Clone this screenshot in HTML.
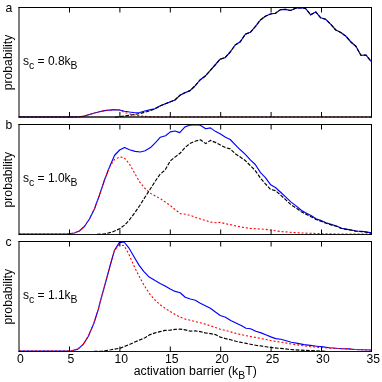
<!DOCTYPE html>
<html><head><meta charset="utf-8"><title>chart</title>
<style>
html,body{margin:0;padding:0;background:#fff;}
body{width:382px;height:382px;position:relative;overflow:hidden;font-family:"Liberation Sans",sans-serif;}
.t{font-family:"Liberation Sans",sans-serif;font-size:12.2px;fill:#000;}
.s{font-size:10.4px;}
</style></head><body>
<svg width="382" height="382" viewBox="0 0 382 382" style="position:absolute;left:0;top:0">
<rect width="382" height="382" fill="#fff"/>
<g fill="none" stroke-linejoin="round">
<polyline points="19.0,117.0 74.0,117.0 79.3,116.8 84.4,116.0 89.4,114.5 94.4,113.0 99.5,111.7 104.5,110.6 109.5,110.1 114.5,109.6 119.6,110.0 124.6,111.2 129.6,112.0 134.7,112.7 139.7,112.5 144.7,111.0 149.7,109.9 154.8,108.8 159.8,106.0 164.8,104.0 169.9,102.0 174.9,100.0 179.9,95.3 184.9,92.7 190.0,90.6 195.0,86.0 200.0,80.0 205.0,76.3 210.1,70.7 215.1,65.0 220.1,59.2 225.2,57.6 230.2,52.0 235.2,45.0 240.3,41.8 245.3,34.2 250.3,32.3 255.3,26.7 260.4,20.0 265.4,16.2 270.4,14.0 275.5,13.2 280.5,9.6 285.5,9.4 290.5,10.5 295.6,8.3 300.6,7.8 305.6,8.5 310.7,14.8 315.7,11.9 320.7,17.8 325.7,19.3 330.8,24.3 335.8,30.0 340.8,32.5 345.9,36.2 350.9,42.0 355.9,46.3 360.9,55.3 366.0,55.0 371.0,61.3" stroke="#0000ff" stroke-width="1.15"/>
<polyline points="19.0,117.0 74.0,117.0 79.3,116.8 84.4,116.0 89.4,114.5 94.4,113.0 99.5,111.7 104.5,110.6 109.5,110.1 114.5,109.6 119.6,110.0 124.6,112.5 129.6,113.8 134.7,115.0 139.7,115.8 144.7,116.3 149.7,116.6 160.0,117.0 371.5,117.0" stroke="#ff0000" stroke-width="1.1" stroke-dasharray="2 2"/>
<polyline points="115.0,117.2 119.6,116.6 124.6,116.0 129.6,115.3 134.7,114.4 139.7,113.6 144.7,112.3 149.7,110.8 154.8,109.0 159.8,106.0 164.8,104.0 169.9,102.0 174.9,100.0 179.9,95.3 184.9,92.7 190.0,90.6 195.0,86.0 200.0,80.0 205.0,76.3 210.1,70.7 215.1,65.0 220.1,59.2 225.2,57.6 230.2,52.0 235.2,45.0 240.3,41.8 245.3,34.2 250.3,32.3 255.3,26.7 260.4,20.0 265.4,16.2 270.4,14.0 275.5,13.2 280.5,9.6 285.5,9.4 290.5,10.5 295.6,8.3 300.6,7.8 305.6,8.5 310.7,14.8 315.7,11.9 320.7,17.8 325.7,19.3 330.8,24.3 335.8,30.0 340.8,32.5 345.9,36.2 350.9,42.0 355.9,46.3 360.9,55.3 366.0,55.0 371.0,61.3" stroke="#000" stroke-width="1.15" stroke-dasharray="3.7 1.5"/>
</g>
<path d="M19,7.0V117.5M371.5,7.0V117.5M18.5,7.5H372.0" fill="none" stroke="#000" stroke-width="1"/>
<path d="M18.5,117H372.0" fill="none" stroke="#000" stroke-width="1.5" opacity="0.92"/>
<path d="M69.50,117V112M69.50,7.5V12.5M119.90,117V112M119.90,7.5V12.5M170.30,117V112M170.30,7.5V12.5M220.70,117V112M220.70,7.5V12.5M271.10,117V112M271.10,7.5V12.5M321.50,117V112M321.50,7.5V12.5" stroke="#000" stroke-width="1" fill="none"/>
<g fill="none" stroke-linejoin="round">
<polyline points="19.0,234.0 64.0,234.0 69.3,233.8 74.3,233.0 79.3,231.0 84.4,226.5 89.4,219.0 94.4,209.0 99.5,195.0 104.5,180.0 109.5,167.0 114.5,155.5 119.6,150.0 124.6,147.5 129.4,149.8 135.1,151.4 140.4,152.0 145.1,150.8 150.5,147.6 155.5,142.6 160.2,137.3 165.6,135.7 170.3,131.9 175.0,131.0 179.7,132.6 185.0,126.9 189.7,125.3 195.5,124.6 200.4,125.3 205.7,128.8 210.4,127.9 215.8,131.6 220.5,134.1 225.5,137.3 230.2,139.5 235.6,145.1 240.3,149.8 245.6,154.6 250.3,159.9 255.3,164.5 260.5,172.6 265.2,177.3 270.7,184.8 275.4,187.5 280.9,192.5 285.6,196.9 291.1,202.1 296.1,205.9 301.3,210.3 306.0,212.9 311.5,215.8 316.0,218.7 321.1,220.6 326.1,222.8 331.1,224.4 336.5,226.0 341.5,228.2 346.2,229.1 351.5,230.0 356.2,231.0 361.6,231.3 366.3,231.9 371.0,232.9" stroke="#0000ff" stroke-width="1.15"/>
<polyline points="19.0,234.0 64.0,234.0 69.3,233.8 74.3,233.0 79.3,231.0 84.4,226.5 89.4,219.0 94.4,209.0 99.5,195.0 104.5,180.0 109.5,167.0 114.5,159.5 119.7,157.0 124.0,157.5 129.4,164.0 134.8,173.4 139.8,182.2 145.1,188.5 149.8,192.9 155.2,196.0 160.2,198.5 165.6,202.3 170.3,205.5 175.0,209.5 180.3,213.6 186.0,214.3 190.7,215.5 195.7,217.4 200.4,219.0 205.7,220.5 210.4,222.1 215.8,222.7 220.5,222.4 225.5,223.7 230.2,224.6 235.6,225.9 240.3,226.8 245.6,227.8 250.3,228.4 255.3,228.7 260.7,229.0 265.4,229.3 270.0,230.0 280.9,231.6 300.0,232.9 321.0,233.7 340.0,234.0 371.5,234.0" stroke="#ff0000" stroke-width="1.1" stroke-dasharray="2 2"/>
<polyline points="97.0,234.2 104.0,234.0 111.9,232.2 119.7,228.7 124.7,225.0 129.4,219.9 134.8,212.7 139.8,205.5 145.1,197.0 149.8,189.7 155.2,181.3 160.2,174.0 164.9,170.3 170.3,160.8 175.0,157.1 180.3,153.0 185.0,147.6 189.7,143.6 195.7,141.0 200.4,139.8 205.7,143.6 210.4,140.4 215.8,142.6 220.5,145.1 225.5,147.6 230.2,148.9 235.6,153.9 240.3,157.1 245.6,160.8 250.3,165.6 255.0,170.2 260.5,178.1 265.2,183.6 270.7,189.5 275.4,190.6 280.9,195.3 285.6,199.6 291.1,204.8 296.1,207.9 301.3,211.8 306.0,214.2 311.5,216.9 316.0,219.5 321.1,221.3 326.1,223.3 331.1,224.9 336.5,226.3 341.5,228.5 346.2,229.4 351.5,230.3 356.2,231.3 361.6,231.6 366.3,232.2 371.0,233.2" stroke="#000" stroke-width="1.15" stroke-dasharray="3.7 1.5"/>
</g>
<path d="M19,124.0V235.0M371.5,124.0V235.0M18.5,124.5H372.0" fill="none" stroke="#000" stroke-width="1"/>
<path d="M18.5,234.5H372.0" fill="none" stroke="#000" stroke-width="1" opacity="0.92"/>
<path d="M69.50,234.5V229.5M69.50,124.5V129.5M119.90,234.5V229.5M119.90,124.5V129.5M170.30,234.5V229.5M170.30,124.5V129.5M220.70,234.5V229.5M220.70,124.5V129.5M271.10,234.5V229.5M271.10,124.5V129.5M321.50,234.5V229.5M321.50,124.5V129.5" stroke="#000" stroke-width="1" fill="none"/>
<g fill="none" stroke-linejoin="round">
<polyline points="19.0,351.0 66.0,351.0 71.6,350.7 77.9,349.1 83.2,344.4 88.2,336.5 93.6,324.0 98.3,309.5 100.3,301.5 103.6,289.5 107.0,277.0 110.7,263.5 114.6,250.1 119.3,242.6 124.1,242.0 128.8,247.8 134.3,257.2 139.0,265.1 143.7,271.3 149.2,277.1 155.1,280.6 160.1,283.4 165.1,285.9 170.2,288.9 175.2,291.4 180.2,292.7 185.2,297.2 190.3,299.0 195.3,300.2 200.3,303.2 205.3,305.7 210.4,308.3 215.4,312.0 220.2,315.5 225.5,317.2 230.7,320.4 235.9,322.9 241.2,325.6 246.0,328.3 250.6,328.7 255.8,331.3 261.1,332.9 266.3,335.0 271.5,337.1 275.7,338.6 281.0,339.2 286.2,340.7 291.3,342.3 297.7,343.4 304.0,344.6 310.4,345.4 316.7,346.2 323.1,346.9 329.4,347.7 335.8,348.2 342.1,348.7 348.5,348.9 354.8,349.5 361.2,349.7 371.0,350.0" stroke="#0000ff" stroke-width="1.15"/>
<polyline points="19.0,351.0 66.0,351.0 71.6,350.7 77.9,349.1 83.2,344.4 88.2,336.5 93.6,324.0 98.3,309.5 100.3,301.5 103.6,289.5 107.0,277.0 110.7,263.5 114.6,250.1 119.3,244.6 124.1,245.7 128.8,254.1 134.3,266.6 139.0,276.0 143.7,284.7 149.2,293.3 155.1,300.2 160.1,304.7 165.1,308.3 170.2,311.5 175.2,314.5 180.2,317.1 185.2,319.1 190.3,320.3 195.3,321.6 200.3,322.8 205.3,324.1 210.4,325.8 215.4,327.5 220.2,329.2 225.5,330.4 230.7,331.9 235.9,333.4 241.2,334.6 246.4,335.7 251.6,336.7 256.9,337.7 262.1,338.8 267.4,339.8 272.6,340.9 277.8,341.7 283.1,342.4 288.3,343.4 291.3,344.1 297.7,344.9 304.0,345.9 310.4,346.7 316.7,347.2 323.1,347.7 329.4,348.0 335.8,348.4 342.1,348.7 348.5,348.9 354.8,349.5 361.2,349.7 371.0,350.0" stroke="#ff0000" stroke-width="1.1" stroke-dasharray="2 2"/>
<polyline points="94.0,351.3 101.4,351.2 110.8,349.8 120.3,348.1 128.1,345.0 137.5,340.9 145.0,337.8 150.0,334.6 155.1,332.9 160.1,331.6 165.1,330.4 170.2,330.1 175.2,329.4 180.2,329.1 185.2,329.9 190.3,331.1 195.3,330.9 200.3,331.6 205.3,332.9 210.4,333.6 215.4,334.6 220.2,337.1 225.5,338.6 230.7,339.8 235.9,341.3 241.2,342.4 246.4,343.4 251.6,344.5 256.9,345.5 262.1,346.1 267.4,347.0 272.6,347.6 277.8,348.2 283.1,348.6 288.3,349.3 295.0,349.9 305.0,350.4 315.0,350.8 326.0,351.3" stroke="#000" stroke-width="1.15" stroke-dasharray="3.7 1.5"/>
</g>
<path d="M19,241.0V352.0M371.5,241.0V352.0M18.5,241.5H372.0" fill="none" stroke="#000" stroke-width="1"/>
<path d="M18.5,351.5H372.0" fill="none" stroke="#000" stroke-width="1" opacity="0.92"/>
<path d="M69.50,351.5V346.5M69.50,241.5V246.5M119.90,351.5V346.5M119.90,241.5V246.5M170.30,351.5V346.5M170.30,241.5V246.5M220.70,351.5V346.5M220.70,241.5V246.5M271.10,351.5V346.5M271.10,241.5V246.5M321.50,351.5V346.5M321.50,241.5V246.5" stroke="#000" stroke-width="1" fill="none"/>
<g style="filter:grayscale(1)"><text x="5.5" y="12.3" class="t">a</text>
<text transform="translate(11.8,62.5) rotate(-90)" text-anchor="middle" class="t">probability</text>
<text x="23" y="64.8" class="t" style="font-size:12px">s<tspan dy="4.5" class="s">c</tspan><tspan dy="-4.5"> = 0.8k</tspan><tspan dy="4.5" class="s">B</tspan></text>
<text x="5.5" y="129.3" class="t">b</text>
<text transform="translate(11.8,179.7) rotate(-90)" text-anchor="middle" class="t">probability</text>
<text x="23" y="181.8" class="t" style="font-size:12px">s<tspan dy="4.5" class="s">c</tspan><tspan dy="-4.5"> = 1.0k</tspan><tspan dy="4.5" class="s">B</tspan></text>
<text x="5.5" y="246.3" class="t">c</text>
<text transform="translate(11.8,296.7) rotate(-90)" text-anchor="middle" class="t">probability</text>
<text x="23" y="298.8" class="t" style="font-size:12px">s<tspan dy="4.5" class="s">c</tspan><tspan dy="-4.5"> = 1.1k</tspan><tspan dy="4.5" class="s">B</tspan></text>
<text x="20.5" y="363.2" text-anchor="middle" class="t">0</text>
<text x="70.9" y="363.2" text-anchor="middle" class="t">5</text>
<text x="121.3" y="363.2" text-anchor="middle" class="t">10</text>
<text x="171.7" y="363.2" text-anchor="middle" class="t">15</text>
<text x="222.1" y="363.2" text-anchor="middle" class="t">20</text>
<text x="272.5" y="363.2" text-anchor="middle" class="t">25</text>
<text x="322.9" y="363.2" text-anchor="middle" class="t">30</text>
<text x="373.3" y="363.2" text-anchor="middle" class="t">35</text>
<text x="133.7" y="375.4" class="t" style="font-size:12.3px">activation barrier (k<tspan dy="3.6" class="s">B</tspan><tspan dy="-3.6">T)</tspan></text></g>
</svg>
</body></html>
